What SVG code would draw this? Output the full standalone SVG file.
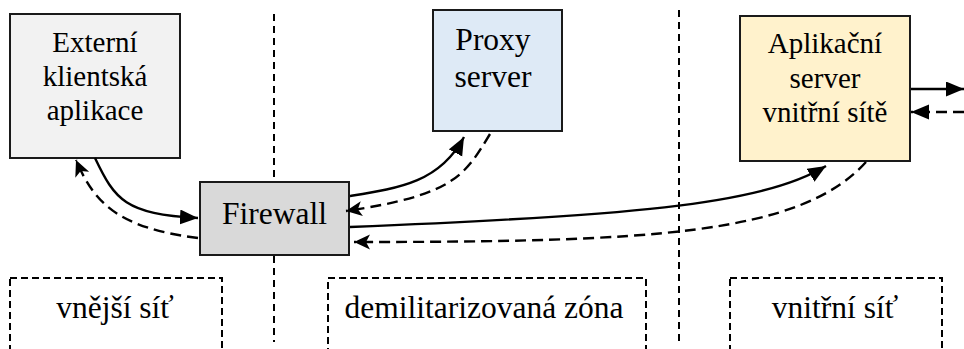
<svg xmlns="http://www.w3.org/2000/svg" width="964" height="349" viewBox="0 0 964 349">
  <style>
    .box { stroke: #1a1a1a; stroke-width: 2; }
    .t { font-family: "Liberation Serif", "Times New Roman", serif; fill: #000; text-anchor: middle; }
    .t29 { font-size: 29px; }
    .t31 { font-size: 31.5px; }
    .zone { fill: none; stroke: #000; stroke-width: 2; stroke-dasharray: 7 4; }
    .divider { fill: none; stroke: #000; stroke-width: 2; stroke-dasharray: 7 5; }
    .req { fill: none; stroke: #000; stroke-width: 2.4; }
    .resp { fill: none; stroke: #000; stroke-width: 2.4; stroke-dasharray: 11 6; }
  </style>
  <defs>
    <marker id="head" markerUnits="userSpaceOnUse" markerWidth="19" markerHeight="16" refX="18" refY="7.5" orient="auto" viewBox="0 0 19 16">
      <path d="M0,0 L18,7.5 L0,15 z" fill="#000"/>
    </marker>
    <marker id="headBarb" markerUnits="userSpaceOnUse" markerWidth="17" markerHeight="16" refX="16" refY="7.5" orient="auto" viewBox="0 0 17 16">
      <path d="M0,0 L16,7.5 L0,15 L4,7.5 z" fill="#000"/>
    </marker>
  </defs>

  <!-- zone dividers -->
  <g id="dividers">
    <path class="divider" d="M274,14 V182 M274,256 V342"/>
    <path class="divider" d="M679,10 V342"/>
  </g>

  <!-- network zones -->
  <g id="zone-outer">
    <rect class="zone" x="10" y="278" width="212" height="100"/>
    <text class="t t31" x="115" y="318">vnější síť</text>
  </g>
  <g id="zone-dmz">
    <rect class="zone" x="328" y="278" width="318" height="100"/>
    <text class="t t31" x="484" y="318">demilitarizovaná zóna</text>
  </g>
  <g id="zone-inner">
    <rect class="zone" x="730" y="278" width="212" height="100"/>
    <text class="t t31" x="835" y="318">vnitřní síť</text>
  </g>

  <!-- nodes -->
  <g id="client">
    <rect class="box" x="10" y="14" width="170" height="144" fill="#f2f2f2"/>
    <text class="t t29" x="95" y="52">Externí</text>
    <text class="t t29" x="95" y="86">klientská</text>
    <text class="t t29" x="95" y="120">aplikace</text>
  </g>
  <g id="firewall">
    <rect class="box" x="200" y="182" width="149" height="73" fill="#d9d9d9"/>
    <text class="t t31" x="274.5" y="224">Firewall</text>
  </g>
  <g id="proxy">
    <rect class="box" x="433" y="10" width="129" height="121" fill="#deeaf6"/>
    <text class="t t31" x="493" y="50">Proxy</text>
    <text class="t t31" x="493" y="87">server</text>
  </g>
  <g id="app-server">
    <rect class="box" x="740" y="16" width="170" height="145" fill="#fff2cc"/>
    <text class="t t29" x="825" y="53">Aplikační</text>
    <text class="t t29" x="825" y="88">server</text>
    <text class="t t29" x="825" y="122">vnitřní sítě</text>
  </g>

  <!-- connectors -->
  <g id="connectors">
    <path class="req" d="M95,158 C115,200 125,214 198,218" marker-end="url(#head)"/>
    <path class="resp" d="M198,238 C120,228 95,205 76,160" marker-end="url(#headBarb)"/>
    <path class="req" d="M350,196 C400,188 440,182 464,137" marker-end="url(#head)"/>
    <path class="resp" d="M490,134 C465,175 455,195 346,211" marker-end="url(#headBarb)"/>
    <path class="req" d="M350,227 C620,216 760,206 826,166" marker-end="url(#head)"/>
    <path class="resp" d="M866,162 C800,235 650,242 354,242" marker-end="url(#headBarb)"/>
    <path class="req" d="M911,89 H964" marker-end="url(#head)"/>
    <path class="resp" d="M964,112 H911" marker-end="url(#head)"/>
  </g>
</svg>
